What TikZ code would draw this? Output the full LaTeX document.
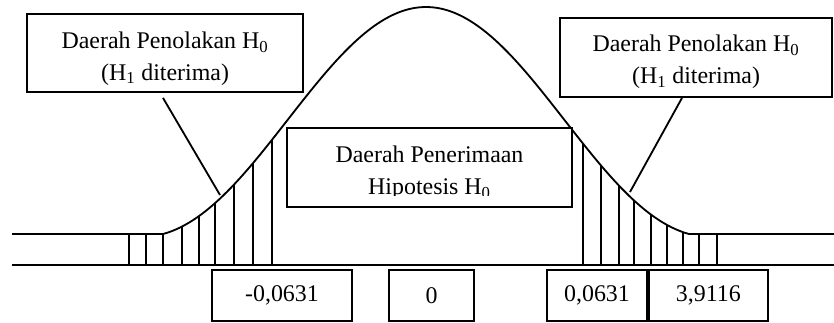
\documentclass[tikz,border=0pt]{standalone}
\usepackage{fontspec}
\setmainfont{Liberation Serif}
\usetikzlibrary{positioning}

\begin{document}
\begin{tikzpicture}[x=0.025cm, y=-0.025cm, line width=1.3pt,
	declare function={vv(\t)=(1+cos(min(abs(\t-426),263)/263*180))/2;
		bell(\t)=234-227*(0.8*vv(\t)+0.2*sqrt(max(vv(\t),0)));}]
	\tikzstyle{box}=[draw, line width=1.3pt, inner sep=0pt, align=center, font=\fontsize{17}{22.5}\selectfont]
	\tikzstyle{teks}=[inner sep=0pt, align=center, font=\fontsize{17}{22.5}\selectfont]
	\useasboundingbox (0,0) rectangle (834,322);
	% kurva dan garis dasar
	\draw (12,234) -- plot[domain=163:689, samples=120, smooth] (\x,{bell(\x)}) -- (834,234);
	\draw (12,265) -- (834,265);
	\foreach \h in {129,146,163,182,199,215,234,253,272,583,601,619,634,651,667,683,699,717}
		\draw (\h,265) -- (\h,{bell(\h)});
	% kotak keterangan
	\node[box, minimum width=6.9cm, minimum height=1.95cm] (tolakkiri) at (165,53) {};
	\node[teks] (tekskiri) at (165,58.5) {Daerah Penolakan H\textsubscript{0}\\(H\textsubscript{1} diterima)};
	\node[box, minimum width=6.8cm, minimum height=1.975cm] (tolakkanan) at (696,57.5) {};
	\node[teks] (tekskanan) at (696,62) {Daerah Penolakan H\textsubscript{0}\\(H\textsubscript{1} diterima)};
	\node[box, fill=white, minimum width=7.125cm, minimum height=1.975cm] (terima) at (429.5,167.5) {};
	\begin{scope}
		\clip (288,129) rectangle (571,195);
		\node[teks] (teksterima) at (429.5,173) {Daerah Penerimaan\\Hipotesis H\textsubscript{0}};
	\end{scope}
	\coordinate (ujungkiri) at (220,195);
	\coordinate (ujungkanan) at (630,192);
	\draw ([shift={(-2,5)}]tolakkiri.south) -- (ujungkiri);
	\draw ([shift={(-14,0)}]tolakkanan.south) -- (ujungkanan);
	% nilai pada sumbu
	\node[box, minimum width=3.5cm, minimum height=1.275cm] (kritiskiri) at (282,295.5) {-0,0631};
	\node[box, minimum width=2.125cm, minimum height=1.275cm] (nol) at (431.5,295.5) {0};
	\node[box, minimum width=2.5cm, minimum height=1.275cm] (kritiskanan) at (597,295.5) {0,0631};
	\node[box, minimum width=2.975cm, minimum height=1.275cm] (hitung) [right=0pt of kritiskanan] {3,9116};
\end{tikzpicture}
\end{document}
